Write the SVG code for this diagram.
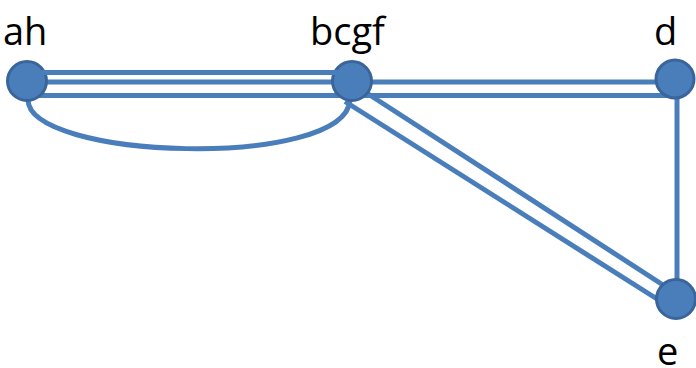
<svg xmlns="http://www.w3.org/2000/svg" width="696" height="368" viewBox="0 0 696 368">
<style>
.e{fill:none;stroke:#4A7EBB;stroke-width:5}
.n{fill:#4A7EBB;stroke:#3A659A;stroke-width:3}
.t{font-family:"Open Sans","Noto Sans",sans-serif;font-size:38px;fill:#000}
</style>
<rect width="696" height="368" fill="#fff"/>
<g id="connectors">
<line class="e" x1="27" y1="82" x2="675" y2="82"/>
<line class="e" x1="27" y1="95.5" x2="675" y2="95.5"/>
<line class="e" x1="677" y1="79" x2="677" y2="299"/>
<line class="e" x1="352" y1="83.5" x2="670" y2="289.5"/>
<line class="e" x1="345" y1="101.5" x2="665" y2="304"/>
<path class="e" d="M28 99 C26 160 345 170 350 100"/>
</g>
<g id="ah"><circle class="n" cx="27" cy="81" r="19.5"/><text class="t" x="3" y="45">ah</text></g>
<g id="bcgf"><circle class="n" cx="352" cy="81" r="19.5"/><text class="t" x="310" y="45">bcgf</text></g>
<g id="d"><circle class="n" cx="675" cy="79" r="19"/><text class="t" x="654" y="45">d</text></g>
<g id="e"><circle class="n" cx="676" cy="299" r="19.5"/><text class="t" x="657" y="365">e</text></g>
<g id="top-edge"><line class="e" x1="27" y1="72.5" x2="352" y2="72.5"/></g>
</svg>
